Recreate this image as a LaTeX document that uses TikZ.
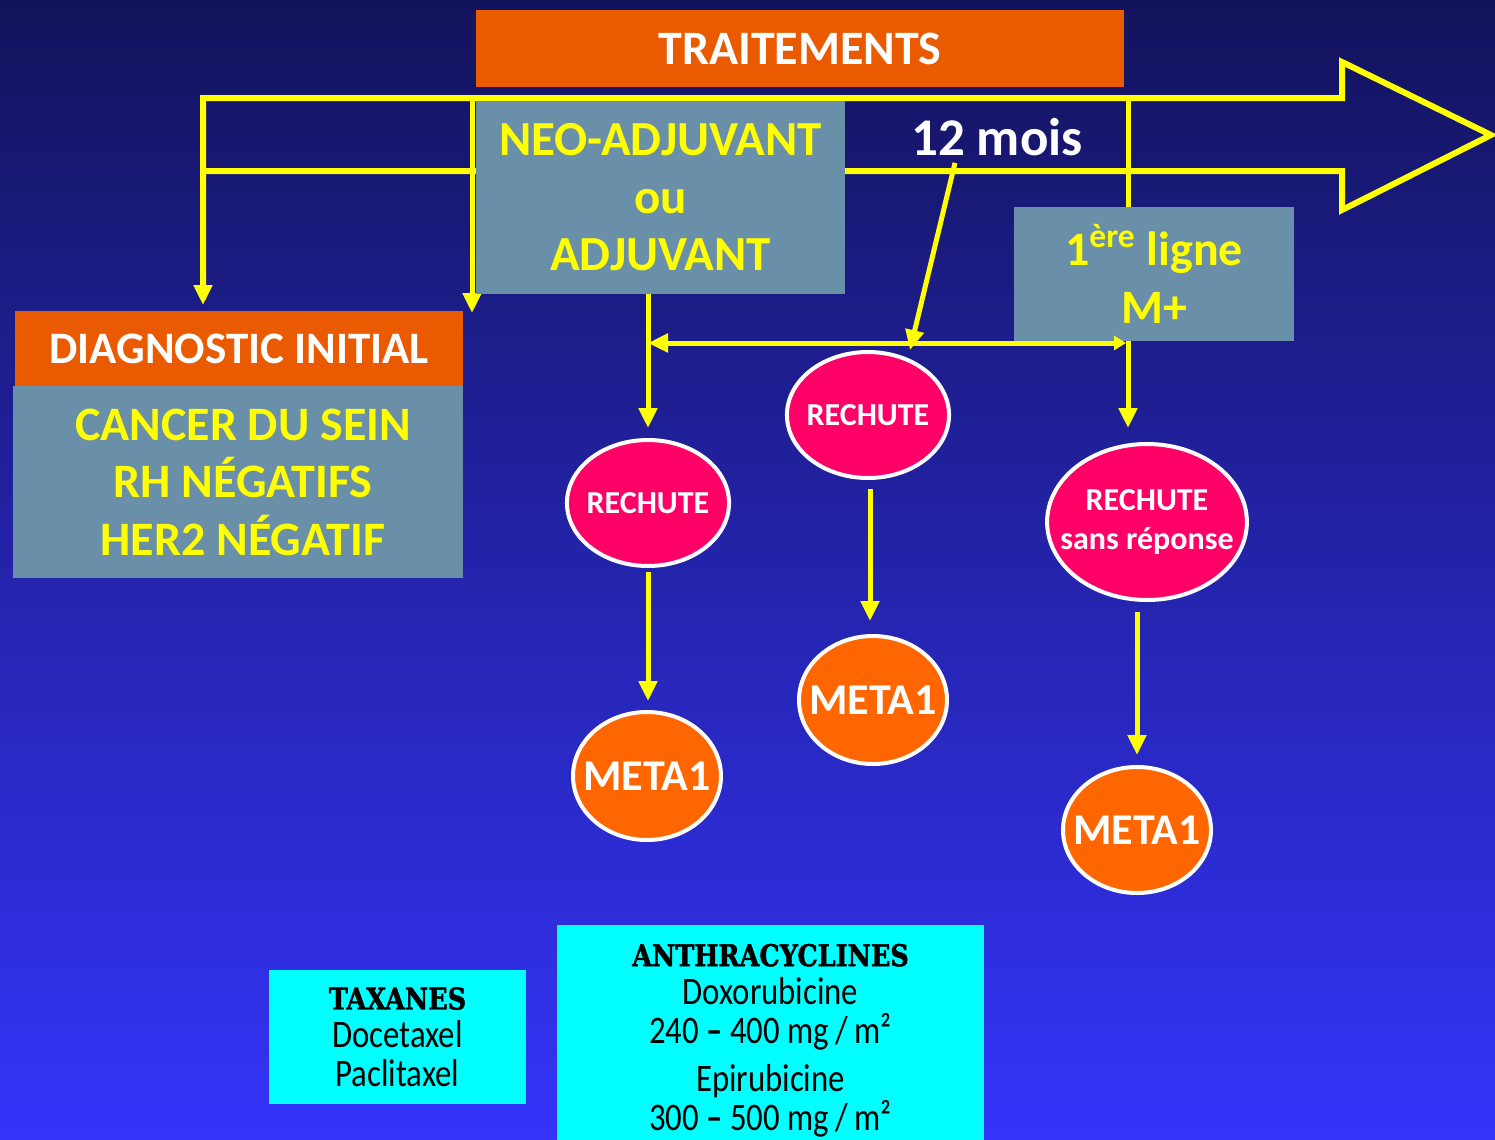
\documentclass[tikz,border=0pt]{standalone}
\usepackage{fontspec}
\setmainfont{Carlito}
\newfontfamily\condfont[FakeStretch=0.84]{Carlito}
\newfontfamily\heavyfont[FakeStretch=0.85, BoldFeatures={FakeBold=1.5}]{DejaVu Serif}
\usetikzlibrary{shapes.geometric, arrows.meta, calc}

\definecolor{bgtop}{RGB}{19,19,92}
\definecolor{bgmid}{RGB}{36,36,182}
\definecolor{bgbot}{RGB}{52,52,250}
\definecolor{hl}{RGB}{255,255,0}
\definecolor{titleor}{RGB}{234,90,0}
\definecolor{panel}{RGB}{106,143,168}
\definecolor{relapse}{RGB}{255,0,102}
\definecolor{metaor}{RGB}{255,102,0}
\definecolor{drug}{RGB}{0,255,255}

\begin{document}
\begin{tikzpicture}[x=0.5pt,y=-0.5pt,
    title/.style={rectangle, fill=titleor, inner sep=0pt, text=white,
        font=\fontsize{24pt}{28pt}\selectfont\bfseries},
    panelbox/.style={rectangle, fill=panel, inner sep=0pt, align=center, text=hl,
        font=\fontsize{24pt}{28.75pt}\selectfont\bfseries},
    rechute/.style={ellipse, fill=relapse, draw=white, line width=2pt, inner ysep=0pt,
        align=center, text=white, font=\fontsize{16pt}{19.5pt}\selectfont\bfseries},
    meta/.style={ellipse, fill=metaor, draw=white, line width=2pt, inner ysep=0pt,
        inner xsep=-6pt, minimum width=74pt, minimum height=64pt, text=white,
        font=\fontsize{22pt}{24pt}\selectfont\bfseries},
    drugbox/.style={rectangle, fill=drug, inner sep=0pt, align=center, text=black,
        font=\fontsize{19.5pt}{19.25pt}\selectfont\condfont},
    outline/.style={draw=hl, line width=3pt},
    wire/.style={draw=hl, line width=2.5pt},
    link/.style={wire, -{Triangle[width=9pt,length=10pt]}},
    ]

    % background
    \useasboundingbox (0,0) rectangle (1495,1140);
    \shade[top color=bgtop, middle color=bgmid, bottom color=bgbot] (0,0) rectangle (1495,1140);

    % big time arrow
    \coordinate (shaftTL) at (203,98);
    \coordinate (shaftBL) at (203,171);
    \coordinate (headTL) at (1342,98);
    \coordinate (headBL) at (1342,171);
    \coordinate (headT) at (1342,62);
    \coordinate (headB) at (1342,210);
    \coordinate (tip) at (1491,135);
    \coordinate (neoTop) at (472,98);
    \coordinate (mTop) at (1128,98);
    \coordinate (split) at (1126,343);

    \node[title, minimum width=324pt, minimum height=38.5pt] (trt) at (800,48.5) {TRAITEMENTS};

    \node[title, minimum width=224pt, minimum height=37.5pt, font=\fontsize{22.5pt}{28pt}\selectfont\bfseries]
        (diag) at (239,348.5) {DIAGNOSTIC INITIAL};
    \node[panelbox, minimum width=225pt, minimum height=96pt] (cancer) at (238,482)
        {\hspace*{5pt}CANCER DU SEIN\\\hspace*{5pt}RH NÉGATIFS\\\hspace*{5pt}HER2 NÉGATIF};

    \draw[outline, -{Triangle[width=9pt,length=10pt]}] (shaftBL) -- (headBL) -- (headB) -- (tip)
        -- (headT) -- (headTL) -- (shaftTL) -- (shaftTL |- 0,305);
    \draw[link] (neoTop) -- (neoTop |- 0,313);
    \draw[wire] (mTop) -- (mTop |- 0,215);

    % treatment boxes
    \node[panelbox, minimum width=184.5pt, minimum height=96.5pt,
        font=\fontsize{24.5pt}{28.75pt}\selectfont\bfseries] (neo) at (660.5,197.5)
        {NEO-ADJUVANT\\ou\\ADJUVANT};
    \node[panelbox, minimum width=140pt, minimum height=67pt] (ligne) at (1154,274)
        {1\textsuperscript{ère} ligne\\M+};
    \node[text=white, font=\fontsize{26.5pt}{30pt}\selectfont\bfseries] (mois) at (997,137) {12 mois};

    % relapses
    \node[rechute, inner xsep=-2pt, minimum width=79pt, minimum height=63pt] (rech1) at (648,503) {RECHUTE};
    \node[rechute, inner xsep=-2pt, minimum width=78pt, minimum height=63pt] (rech2) at (868,415) {RECHUTE};
    \node[rechute, inner xsep=-8pt, minimum width=98pt, minimum height=78pt] (rech3) at (1147,522)
        {RECHUTE\\[0pt]{\fontsize{16pt}{18pt}\selectfont sans réponse}};

    \node[meta] (meta1) at (647,776) {META1};
    \node[meta] (meta2) at (873,700) {META1};
    \node[meta, minimum height=63pt] (meta3) at (1137,830) {META1};

    % connectors
    \draw[link, shorten >=5pt] (rech1.north |- neo.south) -- (rech1.north);
    \draw[link, shorten <=2pt, shorten >=4.5pt] (rech1.south) -- (meta1.north -| rech1.south);
    \draw[link, shorten <=4.5pt, shorten >=6.5pt] ($(rech2.south)+(2,0)$) -- ($(rech2.south |- meta2.north)+(2,0)$);
    \draw[link, shorten <=5pt, shorten >=5pt] (rech3.south -| meta3.north) -- (meta3.north);
    \draw[link, shorten >=7pt] (mTop |- ligne.south) -- (mTop |- rech3.north);
    \draw[wire, {Triangle[width=9pt,length=10pt]}-{Triangle[width=7pt,length=6pt]}]
        (split -| rech1.north) -- (split);
    \draw[link] ([xshift=-21pt]mois.south) -- ([xshift=21pt]rech2.north);

    % drug boxes
    \node[drugbox, minimum width=128.5pt, minimum height=67pt] (tax) at (397.5,1037)
        {{\heavyfont\bfseries\fontsize{15pt}{19pt}\selectfont TAXANES}\\Docetaxel\\Paclitaxel};
    \node[drugbox, minimum width=213.5pt, minimum height=107.5pt] (anth) at (770.5,1032.5)
        {\rule{0pt}{19pt}{\heavyfont\bfseries\fontsize{15pt}{19pt}\selectfont ANTHRACYCLINES}\\Doxorubicine\\
         240 {\bfseries–} 400 mg\,/\,m²\\[5pt]Epirubicine\\300 {\bfseries–} 500 mg\,/\,m²};

\end{tikzpicture}
\end{document}
